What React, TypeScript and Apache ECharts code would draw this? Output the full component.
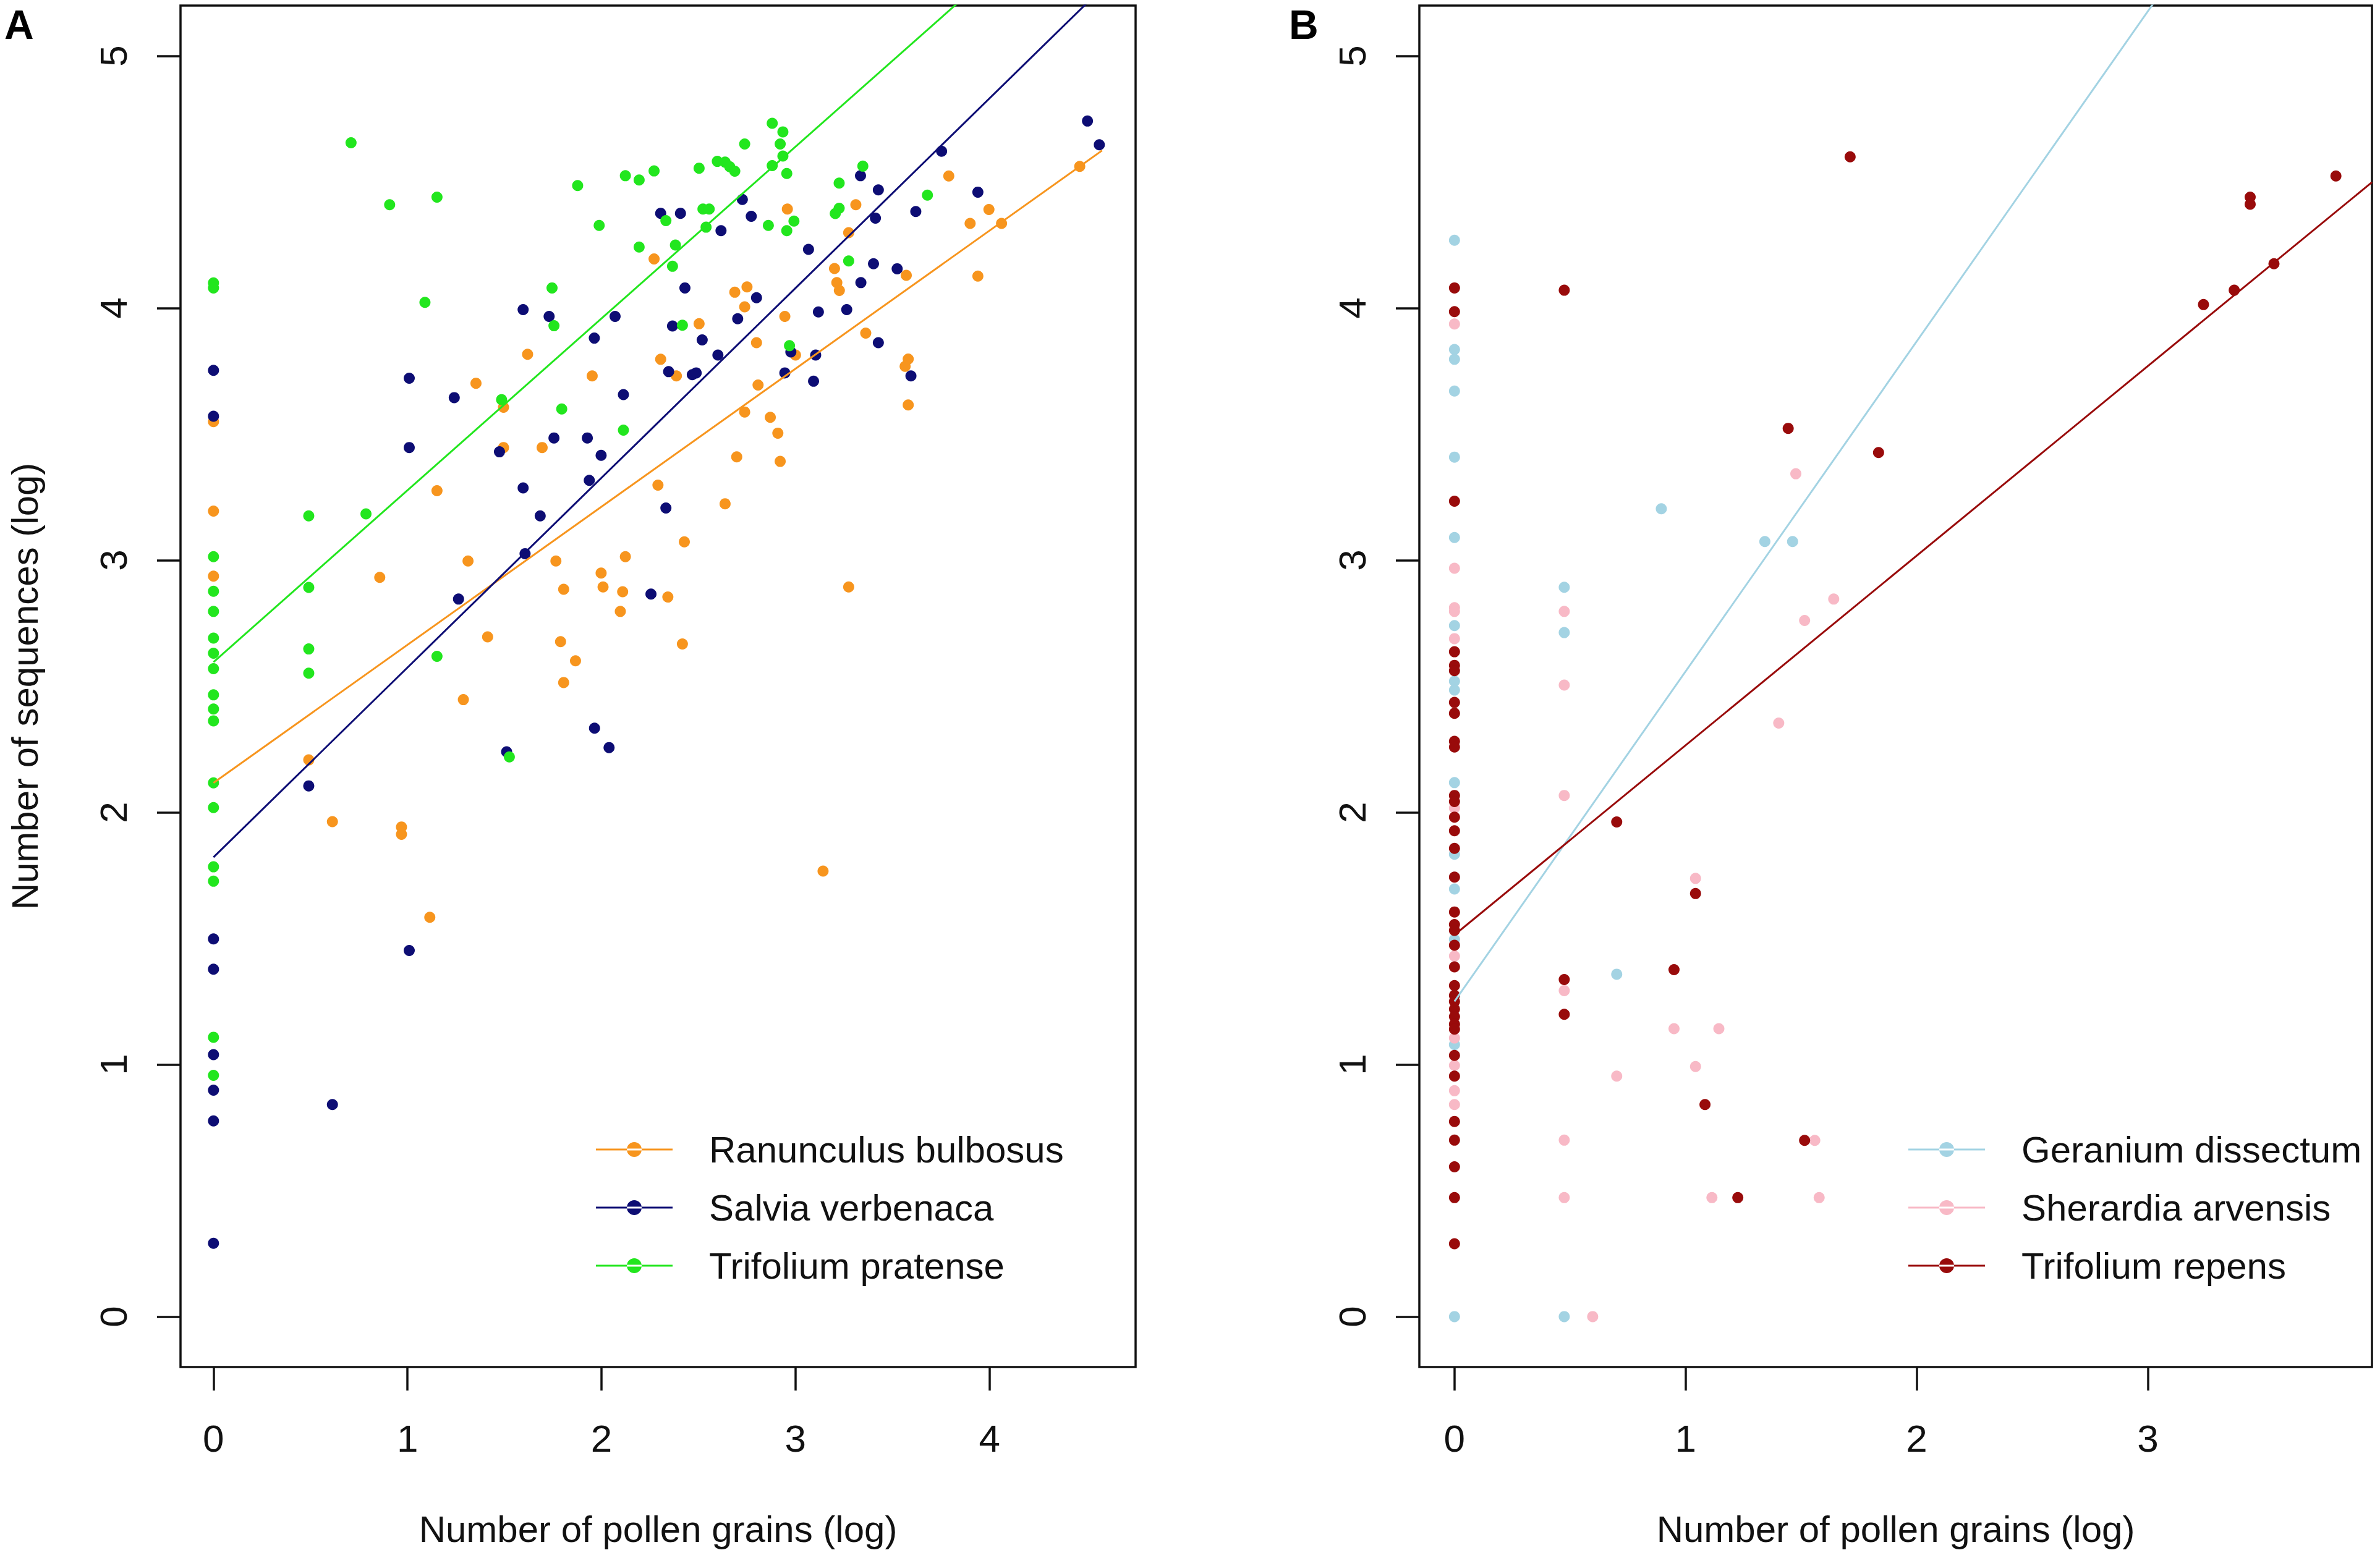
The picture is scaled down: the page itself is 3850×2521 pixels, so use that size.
import React, { useEffect, useRef } from "react";
import * as echarts from "echarts";

// ---------- Panel A data ----------
const ranunculusX = [0, 0, 0, 1.619, 1.952, 1.353, 1.495, 1.495, 1.694, 1.152, 0.857, 1.312, 1.765, 1.998, 1.805, 2.008, 1.413, 1.789, 1.866, 1.805, 1.288, 0.491, 0.613, 0.969, 0.969, 1.115, 2.417, 3.142,
  4.465, 3.79, 3.997, 3.9, 4.062, 3.94, 3.311, 2.958, 3.274, 2.271, 3.201, 3.571, 3.213, 3.226, 2.687, 2.75, 2.738, 2.945, 2.503, 2.799, 3.362, 2.305, 2.386, 3.0, 3.581, 3.565, 3.581, 2.807, 2.738, 2.87, 2.909, 2.921, 2.697, 2.291, 2.637, 2.427, 2.123, 2.109, 2.342, 2.097, 3.274];
const ranunculusY = [3.55, 3.195, 2.937, 3.817, 3.731, 3.702, 3.607, 3.447, 3.447, 3.276, 2.932, 2.997, 2.997, 2.949, 2.885, 2.894, 2.696, 2.677, 2.601, 2.515, 2.447, 2.208, 1.963, 1.942, 1.913, 1.584, 2.668, 1.767,
  4.562, 4.524, 4.391, 4.336, 4.336, 4.127, 4.41, 4.393, 4.299, 4.195, 4.157, 4.13, 4.101, 4.07, 4.063, 4.084, 4.005, 3.967, 3.938, 3.863, 3.901, 3.797, 3.731, 3.814, 3.798, 3.769, 3.616, 3.695, 3.588, 3.567, 3.504, 3.392, 3.41, 3.298, 3.224, 3.073, 3.014, 2.875, 2.854, 2.797, 2.894];

const salviaX = [0, 0, 0, 0, 0, 0, 0, 0, 1.009, 1.241, 1.009, 1.596, 1.73, 2.07, 1.963, 1.474, 1.755, 1.927, 1.998, 1.596, 1.684, 1.937, 1.606, 1.263, 0.491, 1.511, 1.964, 2.039, 1.009, 0.613,
  4.505, 4.566, 3.753, 3.335, 3.427, 3.94, 2.726, 2.305, 2.407, 2.772, 2.616, 3.62, 3.412, 3.067, 2.43, 2.799, 3.402, 3.524, 3.337, 3.118, 3.264, 2.702, 2.366, 2.519, 2.6, 2.346, 2.468, 2.488, 2.945, 2.976, 3.104, 3.093, 3.427, 3.595, 2.113, 2.332, 2.255];
const salviaY = [3.753, 3.571, 1.498, 1.378, 1.039, 0.898, 0.776, 0.291, 3.722, 3.645, 3.447, 3.994, 3.967, 3.967, 3.881, 3.43, 3.485, 3.485, 3.416, 3.287, 3.176, 3.317, 3.026, 2.846, 2.105, 2.24, 2.334, 2.257, 1.452, 0.841,
  4.742, 4.648, 4.622, 4.525, 4.469, 4.46, 4.431, 4.376, 4.376, 4.364, 4.307, 4.383, 4.357, 4.233, 4.08, 4.041, 4.176, 4.156, 4.101, 3.985, 3.994, 3.958, 3.929, 3.874, 3.814, 3.748, 3.736, 3.743, 3.743, 3.826, 3.814, 3.71, 3.863, 3.731, 3.657, 3.207, 2.866];

const pratenseX = [0, 0, 0, 0, 0, 0, 0, 0, 0, 0, 0, 0, 0, 0, 0, 0, 0, 0.709, 0.908, 1.152, 1.877, 1.988, 1.09, 1.745, 1.755, 1.485, 1.795, 0.786, 0.491, 0.491, 0.491, 0.491, 1.152, 1.525,
  2.88, 2.935, 2.921, 2.935, 2.738, 2.597, 2.637, 2.661, 2.687, 2.503, 2.88, 2.955, 2.271, 2.194, 2.123, 3.347, 3.225, 3.225, 3.205, 3.68, 2.523, 2.555, 2.332, 2.539, 2.86, 2.992, 2.955, 2.194, 2.381, 2.366, 3.274, 2.417, 2.969, 2.113];
const pratenseY = [4.1, 4.08, 3.014, 2.877, 2.797, 2.691, 2.631, 2.57, 2.466, 2.41, 2.363, 2.117, 2.019, 1.784, 1.727, 1.108, 0.957, 4.656, 4.41, 4.44, 4.486, 4.328, 4.023, 4.08, 3.93, 3.637, 3.6, 3.184, 3.176, 2.892, 2.648, 2.552, 2.619, 2.22,
  4.733, 4.699, 4.651, 4.603, 4.651, 4.582, 4.579, 4.561, 4.543, 4.555, 4.565, 4.534, 4.544, 4.508, 4.525, 4.563, 4.496, 4.396, 4.375, 4.448, 4.393, 4.393, 4.347, 4.321, 4.328, 4.345, 4.307, 4.242, 4.25, 4.166, 4.187, 3.932, 3.851, 3.516];

// ---------- Panel B data ----------
const geraniumX = [0, 0, 0, 0, 0, 0, 0, 0, 0, 0, 0, 0, 0, 0, 0, 0.475, 0.475, 0.475, 0.895, 1.343, 1.463, 0.702];
const geraniumY = [4.269, 3.836, 3.797, 3.671, 3.409, 3.09, 2.741, 2.52, 2.485, 2.118, 1.834, 1.696, 1.496, 1.079, 0.0, 2.893, 2.713, 0.0, 3.204, 3.074, 3.074, 1.358];

const sherardiaX = [0, 0, 0, 0, 0, 0, 0, 0, 0, 0, 0, 0.475, 0.475, 0.475, 0.475, 0.475, 0.475, 1.477, 1.641, 1.515, 1.403, 1.043, 0.95, 1.144, 0.702, 1.043, 1.559, 1.114, 1.578, 0.598];
const sherardiaY = [3.937, 2.968, 2.812, 2.797, 2.689, 2.017, 1.43, 1.105, 0.996, 0.896, 0.841, 2.797, 2.505, 2.067, 1.293, 0.7, 0.472, 3.343, 2.846, 2.761, 2.354, 1.738, 1.142, 1.142, 0.954, 0.992, 0.699, 0.472, 0.472, 0.0];

const repensX = [0, 0, 0, 0, 0, 0, 0, 0, 0, 0, 0, 0, 0, 0, 0, 0, 0, 0, 0, 0, 0, 0, 0, 0, 0, 0, 0, 0, 0, 0, 0, 0, 0, 0, 0,
  0.475, 0.475, 0.475, 1.712, 3.814, 3.443, 3.443, 3.546, 3.374, 3.241, 1.444, 1.835, 0.702, 1.043, 0.95, 1.084, 1.515, 1.226];
const repensY = [4.08, 3.986, 3.234, 2.637, 2.583, 2.562, 2.436, 2.393, 2.282, 2.259, 2.067, 2.043, 1.981, 1.927, 1.857, 1.743, 1.605, 1.555, 1.532, 1.473, 1.387, 1.313, 1.274, 1.25, 1.22, 1.19, 1.16, 1.14, 1.036, 0.954, 0.774, 0.7, 0.594, 0.472, 0.289,
  4.071, 1.337, 1.199, 4.6, 4.524, 4.44, 4.412, 4.176, 4.071, 4.014, 3.523, 3.427, 1.962, 1.678, 1.376, 0.841, 0.699, 0.472];

// ---------- Fitted lines (intercept, slope) ----------
const fitIntercepts = { ran: 2.117, sal: 1.822, pra: 2.596, ger: 1.25, rep: 1.514 };
const fitSlopes = { ran: 0.5476, sal: 0.7525, pra: 0.6815, ger: 1.309, rep: 0.752 };
const fitRangeA = [0, 4.58];
const fitRangeB = [0, 3.97];

const xTicksA = [0, 1, 2, 3, 4];
const xTicksB = [0, 1, 2, 3];
const yTicks = [0, 1, 2, 3, 4, 5];

const namesA = ["Ranunculus bulbosus", "Salvia verbenaca", "Trifolium pratense"];
const namesB = ["Geranium dissectum", "Sherardia arvensis", "Trifolium repens"];

const COLORS: Record<string, string> = {
  "Ranunculus bulbosus": "#f7951e",
  "Salvia verbenaca": "#0d0d74",
  "Trifolium pratense": "#22e61e",
  "Geranium dissectum": "#a3d3e3",
  "Sherardia arvensis": "#f8b9c6",
  "Trifolium repens": "#990b0b",
};

const FONT = "'Liberation Sans', Arial, Helvetica, sans-serif";
const LEGEND_ICON = "path://M0,10.6h124v2.8h-124z M50,12a12,12 0 1,0 24,0a12,12 0 1,0 -24,0z";

const zip = (xs: number[], ys: number[]) => xs.map((x, i) => [x, ys[i]]);
const fitLine = (key: keyof typeof fitIntercepts, range: number[]) =>
  range.map((x) => [x, fitIntercepts[key] + fitSlopes[key] * x]);

function scatter(name: string, xs: number[], ys: number[], idx: number) {
  return {
    type: "scatter",
    name,
    xAxisIndex: idx,
    yAxisIndex: idx,
    data: zip(xs, ys),
    symbol: "circle",
    symbolSize: 18,
    itemStyle: { color: COLORS[name], opacity: 1 },
    emphasis: { disabled: true },
    silent: true,
  };
}

function line(name: string, data: number[][], idx: number) {
  return {
    type: "line",
    name,
    xAxisIndex: idx,
    yAxisIndex: idx,
    data,
    symbol: "none",
    clip: true,
    lineStyle: { color: COLORS[name], width: 3 },
    itemStyle: { color: COLORS[name] },
    emphasis: { disabled: true },
    silent: true,
    z: 3,
  };
}

function xAxis(idx: number, min: number, max: number, ticks: number[], withName: boolean) {
  return {
    type: "value",
    gridIndex: idx,
    position: "bottom",
    min,
    max,
    name: withName ? "Number of pollen grains (log)" : "",
    nameLocation: "middle",
    nameGap: 232,
    nameTextStyle: { fontSize: 60, color: "#111", fontFamily: FONT },
    axisLine: { show: false, onZero: false },
    splitLine: { show: false },
    axisTick: { show: true, inside: false, length: 38, customValues: ticks, lineStyle: { color: "#111", width: 3.5 } },
    axisLabel: { show: true, customValues: ticks, margin: 84, fontSize: 62, color: "#111", fontFamily: FONT, formatter: (v: number) => String(v) },
  };
}

function yAxis(idx: number, withName: boolean) {
  return {
    type: "value",
    gridIndex: idx,
    position: "left",
    min: -0.2,
    max: 5.2,
    name: withName ? "Number of sequences (log)" : "",
    nameLocation: "middle",
    nameRotate: 90,
    nameGap: 222,
    nameTextStyle: { fontSize: 60, color: "#111", fontFamily: FONT },
    axisLine: { show: false, onZero: false },
    splitLine: { show: false },
    axisTick: { show: true, inside: false, length: 38, customValues: yTicks, lineStyle: { color: "#111", width: 3.5 } },
    axisLabel: { show: true, customValues: yTicks, rotate: 90, margin: 78, fontSize: 62, color: "#111", fontFamily: FONT, formatter: (v: number) => String(v) },
  };
}

function legend(names: string[], left: number) {
  return {
    orient: "vertical",
    left,
    top: 1825,
    itemWidth: 124,
    itemHeight: 24,
    itemGap: 34,
    selectedMode: false,
    data: names.map((n) => ({ name: n, icon: LEGEND_ICON })),
    textStyle: { fontSize: 60, lineHeight: 60, color: "#111", fontFamily: FONT, padding: [0, 0, 0, 54] },
  };
}

export default function App() {
  const ref = useRef<HTMLDivElement>(null);
  useEffect(() => {
    if (!ref.current) return;
    const chart = echarts.init(ref.current, undefined, { renderer: "svg" });
    const option = {
      animation: false,
      backgroundColor: "#ffffff",
      title: [
        { text: "A", left: 2, top: 2, textStyle: { fontSize: 66, fontWeight: "bold", color: "#000", fontFamily: FONT } },
        { text: "B", left: 2080, top: 2, textStyle: { fontSize: 66, fontWeight: "bold", color: "#000", fontFamily: FONT } },
      ],
      grid: [
        { left: 292, top: 9, width: 1545, height: 2203, show: true, borderColor: "#111", borderWidth: 3.5, backgroundColor: "transparent", containLabel: false },
        { left: 2296, top: 9, width: 1541, height: 2203, show: true, borderColor: "#111", borderWidth: 3.5, backgroundColor: "transparent", containLabel: false },
      ],
      xAxis: [xAxis(0, -0.17, 4.753, xTicksA, true), xAxis(1, -0.152, 3.97, xTicksB, true)],
      yAxis: [yAxis(0, true), yAxis(1, false)],
      legend: [legend(namesA, 959), legend(namesB, 3082)],
      series: [
        scatter(namesA[0], ranunculusX, ranunculusY, 0),
        scatter(namesA[1], salviaX, salviaY, 0),
        scatter(namesA[2], pratenseX, pratenseY, 0),
        line(namesA[0], fitLine("ran", fitRangeA), 0),
        line(namesA[1], fitLine("sal", fitRangeA), 0),
        line(namesA[2], fitLine("pra", fitRangeA), 0),
        scatter(namesB[0], geraniumX, geraniumY, 1),
        scatter(namesB[1], sherardiaX, sherardiaY, 1),
        scatter(namesB[2], repensX, repensY, 1),
        line(namesB[0], fitLine("ger", fitRangeB), 1),
        line(namesB[2], fitLine("rep", fitRangeB), 1),
      ],
    };
    chart.setOption(option as any);
    return () => chart.dispose();
  }, []);
  return (
    <div
      ref={ref}
      style={{ position: "fixed", left: 0, top: 0, width: "3850px", height: "2521px", background: "#fff" }}
    />
  );
}
